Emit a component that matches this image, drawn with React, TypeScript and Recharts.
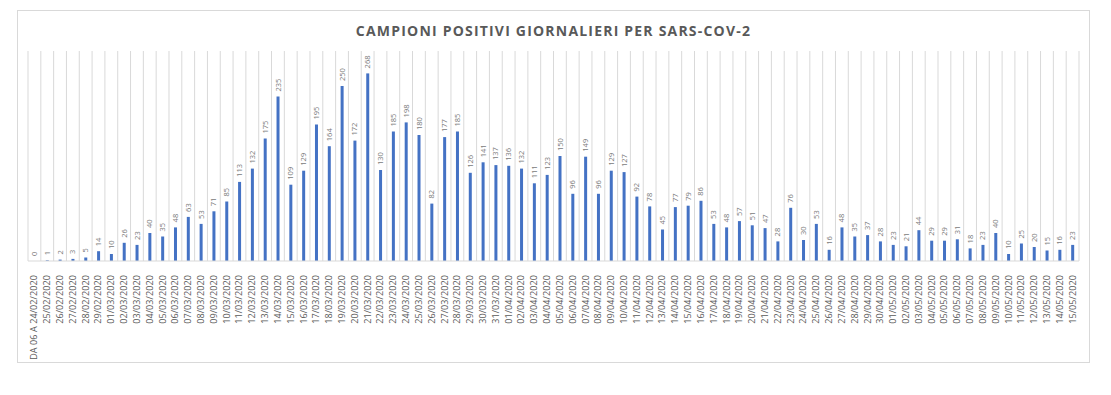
import React from 'react';
import { BarChart, Bar, XAxis, YAxis, CartesianGrid } from 'recharts';

const DATES = [
  'DA 06 A 24/02/2020', '25/02/2020', '26/02/2020', '27/02/2020', '28/02/2020', '29/02/2020',
  '01/03/2020', '02/03/2020', '03/03/2020', '04/03/2020', '05/03/2020', '06/03/2020', '07/03/2020',
  '08/03/2020', '09/03/2020', '10/03/2020', '11/03/2020', '12/03/2020', '13/03/2020', '14/03/2020',
  '15/03/2020', '16/03/2020', '17/03/2020', '18/03/2020', '19/03/2020', '20/03/2020', '21/03/2020',
  '22/03/2020', '23/03/2020', '24/03/2020', '25/03/2020', '26/03/2020', '27/03/2020', '28/03/2020',
  '29/03/2020', '30/03/2020', '31/03/2020', '01/04/2020', '02/04/2020', '03/04/2020', '04/04/2020',
  '05/04/2020', '06/04/2020', '07/04/2020', '08/04/2020', '09/04/2020', '10/04/2020', '11/04/2020',
  '12/04/2020', '13/04/2020', '14/04/2020', '15/04/2020', '16/04/2020', '17/04/2020', '18/04/2020',
  '19/04/2020', '20/04/2020', '21/04/2020', '22/04/2020', '23/04/2020', '24/04/2020', '25/04/2020',
  '26/04/2020', '27/04/2020', '28/04/2020', '29/04/2020', '30/04/2020', '01/05/2020', '02/05/2020',
  '03/05/2020', '04/05/2020', '05/05/2020', '06/05/2020', '07/05/2020', '08/05/2020', '09/05/2020',
  '10/05/2020', '11/05/2020', '12/05/2020', '13/05/2020', '14/05/2020', '15/05/2020',
];

const POSITIVI = [
  0, 1, 2, 3, 5, 14,
  10, 26, 23, 40, 35, 48, 63,
  53, 71, 85, 113, 132, 175, 235,
  109, 129, 195, 164, 250, 172, 268,
  130, 185, 198, 180, 82, 177, 185,
  126, 141, 137, 136, 132, 111, 123,
  150, 96, 149, 96, 129, 127, 92,
  78, 45, 77, 79, 86, 53, 48,
  57, 51, 47, 28, 76, 30, 53,
  16, 48, 35, 37, 28, 23, 21,
  44, 29, 29, 31, 18, 23, 40,
  10, 25, 20, 15, 16, 23,
];

const data = DATES.map((d, i) => ({ data: d, positivi: POSITIVI[i] }));

const GREY = '#595959';
const FONT = '"Open Sans", "DejaVu Sans", sans-serif';

function DateTick(props: any) {
  const { x, y, payload } = props;
  return (
    <text
      transform={`translate(${x + 3},${y + 6}) rotate(-90)`}
      textAnchor="end"
      fontSize={9}
      fill={GREY}
      fontFamily={FONT}
      letterSpacing={0.1}
    >
      {payload.value}
    </text>
  );
}

// bar + its value label drawn together, so the 0 bar still gets its label
function BarWithLabel(props: any) {
  const { x, y, width, height, fill, value } = props;
  const v = Array.isArray(value) ? value[1] - value[0] : value;
  const cx = x + width / 2 + 2.5;
  return (
    <g>
      {height > 0 && <rect x={x} y={y} width={width} height={height} fill={fill} />}
      <text
        transform={`translate(${cx},${y - 5}) rotate(-90)`}
        textAnchor="start"
        fontSize={7.5}
        fill="#7a7a7a"
        fontFamily={FONT}
      >
        {v}
      </text>
    </g>
  );
}

export default function App() {
  const n = DATES.length;
  return (
    <div style={{ position: 'relative', width: 1095, height: 379 }}>
      <div
        style={{
          position: 'absolute',
          left: 9,
          top: 2,
          width: 1071,
          height: 351,
          border: '1px solid #d9d9d9',
        }}
      />
      <div
        style={{
          position: 'absolute',
          left: 9,
          top: 13,
          width: 1073,
          textAlign: 'center',
          fontFamily: FONT,
          fontWeight: 700,
          fontSize: 14,
          letterSpacing: 1.2,
          color: GREY,
        }}
      >
        CAMPIONI POSITIVI GIORNALIERI PER SARS-COV-2
      </div>
      <div style={{ position: 'absolute', left: 0, top: 0 }}>
        <BarChart
          width={1095}
          height={379}
          data={data}
          margin={{ top: 43, right: 24, left: 20, bottom: 26 }}
        >
          <CartesianGrid
            horizontal={false}
            stroke="#d9d9d9"
            verticalCoordinatesGenerator={({ offset }: any) =>
              Array.from({ length: n + 1 }, (_, i) => offset.left + (i * offset.width) / n)
            }
          />
          <XAxis
            dataKey="data"
            interval={0}
            height={100}
            tickLine={false}
            axisLine={{ stroke: '#d9d9d9' }}
            tick={<DateTick />}
          />
          <YAxis hide domain={[0, 300]} />
          <Bar
            dataKey="positivi"
            fill="#4472C4"
            barSize={3}
            shape={<BarWithLabel />}
            isAnimationActive={false}
          />
        </BarChart>
      </div>
    </div>
  );
}
